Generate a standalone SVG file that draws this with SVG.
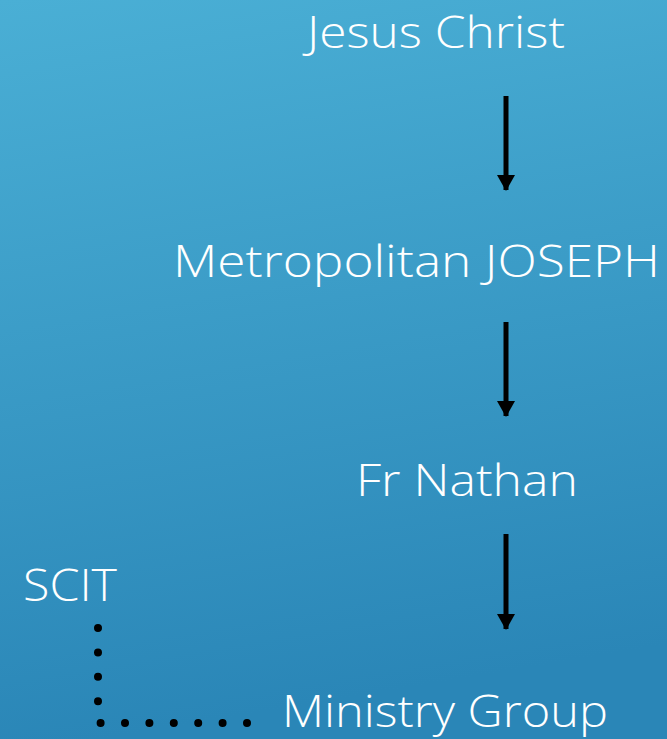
<svg xmlns="http://www.w3.org/2000/svg" width="667" height="739" viewBox="0 0 667 739">
<defs>
<linearGradient id="bg" x1="0" y1="0" x2="0.15" y2="1">
<stop offset="0" stop-color="#4aafd5"/>
<stop offset="1" stop-color="#2a86b7"/>
</linearGradient>
<marker id="ah" viewBox="0 0 16 18" refX="15" refY="9" markerWidth="16" markerHeight="18" markerUnits="userSpaceOnUse" orient="auto">
<path d="M0,0 L16,9 L0,18 Z" fill="#000"/>
</marker>
</defs>
<style>
.t{font-family:"Open Sans","Liberation Sans",sans-serif;font-weight:300;fill:#fff;font-size:44px;}
.a{stroke:#000;stroke-width:5;fill:none;}
.d{stroke:#000;stroke-width:8;stroke-linecap:round;fill:none;}
</style>
<rect width="667" height="739" fill="url(#bg)"/>
<g id="connectors">
<line class="a" x1="506" y1="96" x2="506" y2="190" marker-end="url(#ah)"/>
<line class="a" x1="506" y1="322" x2="506" y2="416" marker-end="url(#ah)"/>
<line class="a" x1="506" y1="534" x2="506" y2="629" marker-end="url(#ah)"/>
<path class="d" d="M98,628 L98,723 L249,723" stroke-dasharray="0 24.4"/>
</g>
<g id="jesus"><text class="t" x="307" y="48" textLength="258" lengthAdjust="spacingAndGlyphs">Jesus Christ</text></g>
<g id="joseph"><text class="t" x="173" y="277" textLength="487" lengthAdjust="spacingAndGlyphs">Metropolitan JOSEPH</text></g>
<g id="nathan"><text class="t" x="356" y="496" textLength="222" lengthAdjust="spacingAndGlyphs">Fr Nathan</text></g>
<g id="scit"><text class="t" x="23" y="601" textLength="94" lengthAdjust="spacingAndGlyphs">SCIT</text></g>
<g id="ministry"><text class="t" x="282" y="727" textLength="326" lengthAdjust="spacingAndGlyphs">Ministry Group</text></g>
</svg>
